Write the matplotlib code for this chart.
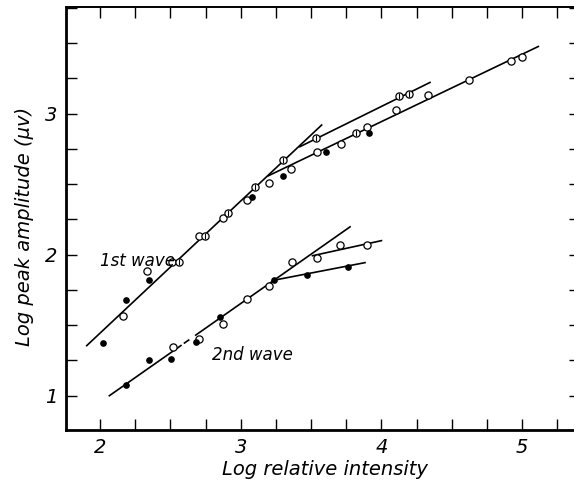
import numpy as np
import matplotlib
matplotlib.use('Agg')
import matplotlib.pyplot as plt
from matplotlib.ticker import MultipleLocator

plt.rcParams.update({'font.family': 'DejaVu Sans', 'font.style': 'italic'})

# first wave
w1_open_x = [2.166, 2.336, 2.51, 2.70, 2.872, 3.043, 3.20, 3.357, 3.542, 3.71,
             3.90, 4.10, 4.33, 4.625, 4.923, 4.997]
w1_open_y = [1.567, 1.882, 1.945, 2.13, 2.257, 2.388, 2.506, 2.608, 2.73, 2.787,
             2.908, 3.026, 3.135, 3.24, 3.376, 3.40]
w1_filled_x = [2.02, 2.185, 2.348, 3.078, 3.303, 3.604, 3.91]
w1_filled_y = [1.374, 1.68, 1.82, 2.41, 2.56, 2.726, 2.86]
w1_striped_x = [2.564, 2.746, 2.912, 3.10, 3.303, 3.533, 3.82, 4.127, 4.198]
w1_striped_y = [1.95, 2.13, 2.296, 2.477, 2.672, 2.825, 2.86, 3.126, 3.14]

# second wave
w2_open_x = [2.517, 2.70, 2.876, 3.043, 3.20, 3.365, 3.542, 3.706, 3.90]
w2_open_y = [1.343, 1.40, 1.51, 1.686, 1.775, 1.945, 1.977, 2.07, 2.07]
w2_filled_x = [2.185, 2.346, 2.505, 2.682, 2.853, 3.239, 3.47, 3.765]
w2_filled_y = [1.078, 1.257, 1.26, 1.378, 1.555, 1.82, 1.858, 1.915]

# fitted lines (end points)
fit1_main_x, fit1_main_y = [1.905, 3.575], [1.355, 2.92]
fit1_upper_x, fit1_upper_y = [3.42, 4.345], [2.766, 3.222]
fit1_lower_x, fit1_lower_y = [3.196, 5.115], [2.56, 3.477]
fit2_main_x = [2.066, 2.575, np.nan, 2.60, 2.63, np.nan, 2.68, 3.777]
fit2_main_y = [1.0, 1.356, np.nan, 1.374, 1.395, np.nan, 1.43, 2.198]
fit2_upper_x, fit2_upper_y = [3.51, 4.0], [1.993, 2.10]
fit2_lower_x, fit2_lower_y = [3.239, 3.883], [1.82, 1.944]

W, H = 574, 487
fig = plt.figure(figsize=(W / 100, H / 100), dpi=100)
# right edge of the frame sits just outside the picture, as in the scan
ax = fig.add_axes([66 / W, (H - 430) / H, 514 / W, 423 / H])

lw = 1.2
for xs, ys in [(fit1_main_x, fit1_main_y), (fit1_upper_x, fit1_upper_y),
               (fit1_lower_x, fit1_lower_y), (fit2_main_x, fit2_main_y),
               (fit2_upper_x, fit2_upper_y), (fit2_lower_x, fit2_lower_y)]:
    ax.plot(xs, ys, color='k', lw=lw, zorder=2)

ms = 5.2
ax.plot(w1_open_x, w1_open_y, 'o', mfc='white', mec='k', mew=0.9, ms=ms, zorder=3)
ax.plot(w1_filled_x, w1_filled_y, 'o', color='k', ms=3.8, zorder=3)
ax.plot(w1_striped_x, w1_striped_y, 'o', mfc='white', mec='k', mew=0.9, ms=ms, zorder=3)
ax.plot(w1_striped_x, w1_striped_y, '|', color='k', mew=0.8, ms=ms - 1.5, zorder=4)
ax.plot(w2_open_x, w2_open_y, 'o', mfc='white', mec='k', mew=0.9, ms=ms, zorder=3)
ax.plot(w2_filled_x, w2_filled_y, 'o', color='k', ms=3.8, zorder=3)

ax.text(2.263, 1.955, '1st wave', fontsize=12, ha='center', va='center')
ax.text(3.084, 1.29, '2nd wave', fontsize=12, ha='center', va='center')

ax.set_xlim(1.758, 5.411)
ax.set_ylim(0.757, 3.757)

ax.xaxis.set_major_locator(MultipleLocator(1))
ax.xaxis.set_minor_locator(MultipleLocator(0.25))
ax.yaxis.set_major_locator(MultipleLocator(1))
ax.yaxis.set_minor_locator(MultipleLocator(0.25))
ax.tick_params(which='both', direction='in', length=8, width=1.0,
               top=True, right=True, labelsize=14, pad=6)

for side in ['left', 'bottom']:
    ax.spines[side].set_linewidth(2.0)
ax.spines['top'].set_linewidth(1.4)
ax.spines['right'].set_linewidth(1.4)

ax.set_xlabel('Log relative intensity', fontsize=14)
ax.xaxis.set_label_coords(0.504, -0.072)
ax.set_ylabel('Log peak amplitude (μv)', fontsize=14)
ax.yaxis.set_label_coords(-0.062, 0.482)

fig.savefig('out.png', dpi=100)
